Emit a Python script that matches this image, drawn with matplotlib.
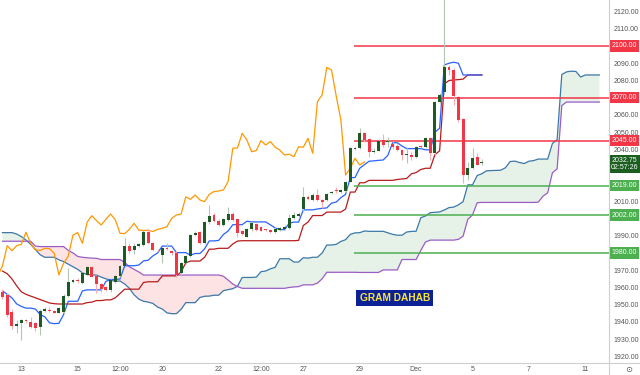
import matplotlib
matplotlib.use("Agg")
import numpy as np
import matplotlib.pyplot as plt

plt.rcParams['font.family'] = ['Liberation Sans', 'DejaVu Sans']

# 4H candles, 13 Nov -> 5 Dec
opens = [1957.6, 1955.5, 1945.5, 1937.5, 1939.5, 1941.2, 1940.2, 1939.2, 1936.9, 1946.6,
         1947.2, 1946.6, 1945.4, 1946.0, 1955.1, 1963.4, 1964.5, 1962.8, 1967.5, 1972.0,
         1966.5, 1962.0, 1960.0, 1958.6, 1963.4, 1966.7, 1972.6, 1984.2, 1981.7, 1984.2,
         1984.6, 1992.0, 1985.6, 1982.0, 1978.8, 1983.0, 1981.2, 1980.0, 1968.2, 1974.0,
         1978.3, 1990.4, 1992.4, 1985.6, 1997.8, 2002.0, 1998.8, 1996.2, 1999.2, 2002.6,
         1999.5, 1993.0, 1989.5, 1993.7, 1996.8, 1995.0, 1993.5, 1993.3, 1992.4, 1993.3,
         1994.1, 1994.3, 2000.1, 2001.4, 2005.5, 2012.7, 2010.7, 2013.6, 2010.7, 2010.7,
         2014.6, 2016.3, 2015.6, 2016.1, 2021.4, 2040.3, 2040.7, 2049.4, 2045.9, 2038.7,
         2039.3, 2045.5, 2044.2, 2043.2, 2042.2, 2039.7, 2036.8, 2036.8, 2035.8, 2042.0,
         2041.6, 2046.5, 2037.8, 2067.7, 2073.5, 2087.6, 2086.0, 2070.6, 2057.5, 2025.2,
         2029.1, 2035.5, 2032.2]
highs = [1959.0, 1956.5, 1947.5, 1941.0, 1942.0, 1941.8, 1942.7, 1940.0, 1947.5, 1948.5,
         1948.5, 1947.0, 1948.8, 1956.0, 1971.5, 1965.0, 1965.3, 1969.0, 1972.5, 1972.5,
         1967.0, 1962.5, 1961.0, 1965.0, 1967.5, 1973.3, 1988.5, 1985.5, 1986.0, 1986.0,
         1993.3, 1994.0, 1986.0, 1982.5, 1983.5, 1986.0, 1982.0, 1981.0, 1975.0, 1979.0,
         1991.0, 1993.0, 1993.0, 1998.5, 2007.8, 2003.0, 1999.5, 2000.0, 2006.9, 2003.5,
         2000.0, 1993.5, 1994.5, 1998.0, 1997.5, 1995.8, 1994.0, 1994.0, 1995.2, 1995.0,
         1996.0, 2002.5, 2004.0, 2004.0, 2018.3, 2013.5, 2014.5, 2016.9, 2011.0, 2014.6,
         2016.0, 2018.0, 2017.2, 2022.0, 2041.5, 2041.5, 2052.3, 2050.0, 2046.5, 2041.0,
         2046.0, 2049.0, 2047.5, 2045.0, 2043.0, 2040.5, 2041.3, 2038.7, 2042.0, 2042.5,
         2047.5, 2047.0, 2068.0, 2072.5, 2146.0, 2089.0, 2087.0, 2071.0, 2058.0, 2032.5,
         2041.0, 2038.0, 2034.5]
lows = [1953.5, 1943.0, 1936.0, 1933.5, 1929.6, 1939.5, 1936.3, 1935.0, 1932.5, 1946.0,
        1945.5, 1945.0, 1945.0, 1944.6, 1954.5, 1962.5, 1962.4, 1962.0, 1967.0, 1966.0,
        1956.6, 1957.5, 1957.8, 1957.5, 1962.5, 1966.0, 1972.0, 1980.0, 1979.4, 1983.5,
        1984.0, 1985.0, 1981.0, 1981.0, 1974.0, 1981.5, 1979.0, 1966.3, 1966.7, 1973.5,
        1977.5, 1990.0, 1985.0, 1985.0, 1997.0, 1998.0, 1995.5, 1995.8, 1998.5, 1998.5,
        1989.5, 1990.5, 1989.0, 1993.0, 1992.5, 1992.5, 1992.8, 1991.8, 1991.8, 1992.8,
        1993.5, 1994.0, 1999.5, 2000.8, 2004.5, 2010.5, 2010.0, 2010.0, 2005.9, 2010.0,
        2014.0, 2014.5, 2015.0, 2015.5, 2021.0, 2039.5, 2040.0, 2044.5, 2035.5, 2038.0,
        2039.0, 2041.5, 2041.5, 2040.5, 2039.0, 2033.9, 2032.0, 2033.9, 2035.3, 2040.8,
        2041.0, 2033.9, 2036.0, 2067.0, 2072.0, 2083.0, 2066.0, 2056.0, 2020.4, 2022.5,
        2028.5, 2031.0, 2031.0]
closes = [1954.7, 1944.0, 1937.5, 1939.0, 1941.0, 1940.4, 1937.3, 1936.3, 1946.6, 1947.3,
          1946.6, 1945.4, 1948.3, 1955.1, 1963.4, 1964.3, 1964.0, 1968.2, 1971.7, 1966.3,
          1962.0, 1959.0, 1958.6, 1964.3, 1966.7, 1972.6, 1984.2, 1981.3, 1984.2, 1985.0,
          1992.0, 1985.6, 1981.7, 1981.5, 1982.7, 1982.5, 1979.8, 1967.3, 1974.0, 1978.3,
          1990.4, 1991.8, 1985.6, 1997.8, 2001.6, 1998.8, 1996.2, 1999.5, 2002.6, 1999.2,
          1991.4, 1991.2, 1993.7, 1997.2, 1993.3, 1993.0, 1993.2, 1992.4, 1993.7, 1994.3,
          1995.3, 2000.1, 2002.0, 2002.6, 2012.5, 2011.1, 2013.6, 2010.7, 2009.8, 2014.0,
          2015.6, 2015.9, 2016.5, 2021.4, 2040.7, 2040.9, 2049.4, 2045.5, 2038.7, 2039.4,
          2045.1, 2042.6, 2044.6, 2041.3, 2039.7, 2036.8, 2037.3, 2035.8, 2041.6, 2041.3,
          2046.5, 2037.8, 2067.7, 2071.6, 2087.6, 2086.1, 2071.0, 2057.1, 2025.2, 2029.1,
          2034.9, 2031.0, 2032.75]

# Ichimoku lines
tenkan = [1958.0, 1956.0, 1954.0, 1950.5, 1949.0, 1948.0, 1948.0, 1947.5, 1944.3, 1943.0,
          1939.5, 1939.0, 1939.2, 1944.3, 1952.0, 1952.0, 1952.0, 1958.0, 1958.6, 1958.6,
          1958.6, 1958.6, 1963.5, 1964.6, 1964.6, 1964.9, 1972.6, 1972.6, 1972.6, 1973.0,
          1975.4, 1975.8, 1978.3, 1980.0, 1984.0, 1984.0, 1984.0, 1980.2, 1980.2, 1980.2,
          1978.7, 1979.7, 1979.7, 1982.4, 1987.0, 1987.0, 1987.3, 1990.7, 1992.7, 1996.4,
          1996.4, 1996.4, 1998.4, 1998.0, 1998.0, 1998.0, 1998.0, 1996.3, 1994.5, 1993.5,
          1993.5, 1997.2, 1997.9, 1997.9, 2005.0, 2005.0, 2005.0, 2005.5, 2005.9, 2006.1,
          2008.9, 2009.5, 2012.1, 2014.0, 2023.7, 2023.7, 2029.1, 2031.2, 2033.2, 2033.4,
          2033.7, 2033.9, 2036.7, 2043.9, 2043.9, 2042.0, 2040.5, 2040.5, 2040.5, 2040.5,
          2039.8, 2039.8, 2050.0, 2052.3, 2089.0, 2090.0, 2090.6, 2090.0, 2083.2, 2083.2,
          2083.2, 2083.2, 2083.2]
kijun = [1969.5, 1968.0, 1965.0, 1961.0, 1957.5, 1956.0, 1955.0, 1954.0, 1953.0, 1952.0,
         1951.0, 1950.6, 1950.4, 1950.4, 1950.4, 1950.4, 1950.4, 1950.4, 1951.2, 1951.5,
         1952.4, 1952.4, 1952.8, 1952.8, 1954.0, 1956.5, 1959.0, 1959.0, 1959.0, 1959.0,
         1962.9, 1963.3, 1963.3, 1963.3, 1966.7, 1966.7, 1966.7, 1966.7, 1969.0, 1974.3,
         1975.3, 1975.3, 1975.3, 1977.5, 1982.2, 1982.2, 1982.7, 1982.7, 1982.7, 1985.2,
         1986.9, 1987.1, 1987.1, 1987.1, 1987.1, 1987.1, 1987.1, 1987.1, 1987.1, 1987.1,
         1987.1, 1987.1, 1987.1, 1987.3, 1995.9, 1997.9, 2001.7, 2001.7, 2001.7, 2003.7,
         2003.7, 2003.7, 2003.7, 2005.5, 2015.3, 2015.3, 2020.7, 2020.7, 2022.1, 2022.1,
         2022.1, 2022.1, 2022.1, 2022.1, 2022.6, 2022.9, 2023.2, 2025.9, 2026.6, 2028.4,
         2029.1, 2029.1, 2037.0, 2039.2, 2078.0, 2080.0, 2080.3, 2080.5, 2080.8, 2083.2,
         2083.2, 2083.2, 2083.2]
span_a = [1991.8, 1991.8, 1991.8, 1991.0, 1989.5, 1987.5, 1985.0, 1982.0, 1979.0, 1977.5,
          1977.5, 1977.5, 1976.0, 1975.0, 1973.5, 1972.0, 1970.5, 1968.5, 1967.5, 1967.3,
          1967.2, 1966.0, 1965.0, 1964.3, 1963.5, 1963.75, 1962.0, 1959.5, 1955.75, 1953.25,
          1952.0, 1951.5, 1950.75, 1948.65, 1947.5, 1945.25, 1944.8, 1944.8, 1947.35, 1951.2,
          1951.2, 1951.2, 1954.2, 1954.9, 1955.0, 1955.5, 1955.5, 1958.15, 1958.7, 1959.3,
          1960.7, 1965.8, 1965.8, 1965.8, 1966.0, 1969.15, 1969.55, 1970.8, 1971.65, 1976.65,
          1976.65, 1976.65, 1974.75, 1974.75, 1977.25, 1977.0, 1977.5, 1977.5, 1979.95, 1984.6,
          1984.6, 1985.0, 1986.7, 1987.7, 1990.8, 1991.65, 1991.75, 1992.75, 1992.55, 1992.55,
          1992.55, 1992.55, 1991.7, 1990.8, 1990.3, 1990.3, 1992.15, 1992.5, 1992.6, 2000.45,
          2001.45, 2003.35, 2003.6, 2003.8, 2004.9, 2006.3, 2006.6, 2007.9, 2009.75, 2019.5,
          2019.5, 2024.9, 2025.95, 2027.65, 2027.75, 2027.9, 2028.0, 2029.4, 2033.0, 2033.25,
          2032.45, 2031.85, 2033.2, 2033.55, 2034.45, 2034.45, 2034.45, 2043.5, 2045.75, 2083.5,
          2085.0, 2085.4, 2085.25, 2082.0, 2083.2, 2083.2, 2083.2, 2083.2]
span_b = [1986.8, 1986.8, 1986.8, 1986.8, 1986.8, 1986.8, 1986.8, 1984.0, 1983.7, 1983.7,
          1983.7, 1983.7, 1983.7, 1983.7, 1981.5, 1980.0, 1978.0, 1977.5, 1977.2, 1977.0,
          1976.9, 1976.2, 1976.2, 1976.2, 1976.2, 1976.2, 1974.5, 1972.0, 1970.5, 1969.0,
          1967.2, 1967.2, 1967.2, 1967.2, 1967.2, 1967.2, 1967.2, 1967.2, 1967.2, 1967.2,
          1967.2, 1967.2, 1967.2, 1967.2, 1967.2, 1967.2, 1967.2, 1966.5, 1964.3, 1962.0,
          1960.5, 1959.5, 1959.5, 1959.5, 1959.5, 1959.5, 1959.5, 1959.5, 1959.5, 1959.5,
          1959.5, 1960.0, 1960.3, 1960.5, 1961.5, 1961.5, 1961.5, 1962.5, 1965.0, 1968.8,
          1968.8, 1968.8, 1968.8, 1968.8, 1968.8, 1968.8, 1968.7, 1968.7, 1968.7, 1968.7,
          1968.7, 1970.15, 1970.15, 1970.15, 1970.15, 1976.2, 1976.2, 1976.2, 1976.2, 1981.45,
          1986.4, 1987.45, 1987.45, 1987.45, 1987.45, 1987.45, 1987.45, 1987.9, 1989.75, 1999.5,
          2002.0, 2009.15, 2009.3, 2009.3, 2009.3, 2009.3, 2009.3, 2009.3, 2009.3, 2009.3,
          2009.3, 2009.3, 2009.3, 2009.3, 2009.5, 2012.9, 2014.9, 2026.5, 2028.75, 2065.5,
          2067.5, 2067.5, 2067.5, 2067.5, 2067.5, 2067.5, 2067.5, 2067.5]
lag = 25  # chikou shift

levels_red = [2100, 2070, 2045]
levels_green = [2019, 2002, 1980]
last_price = 2032.75
countdown = "02:57:26"

date_ticks = [4, 16, 25, 34, 46, 55, 64, 76, 88, 100, 112, 124]
date_labels = ["13", "15", "12:00", "20", "22", "12:00", "27", "29", "Dec", "5", "7", "11"]
price_ticks = [1920, 1930, 1940, 1950, 1960, 1970, 1990, 2010, 2040, 2050, 2060, 2080, 2090, 2110, 2120]

UP, DOWN = '#1e5b24', '#f23645'

o = np.array(opens); h = np.array(highs); l = np.array(lows); c = np.array(closes)
idx = np.arange(len(c))
a = np.array(span_a); b = np.array(span_b)
cidx = np.arange(len(a))

fig = plt.figure(figsize=(6.4, 3.75), dpi=100)
ax = fig.add_axes([0, 12 / 375, 609 / 640, 363 / 375])
ax.set_xlim(-0.53, 129.04)
ax.set_ylim(1916.2, 2126.67)

# cloud
ax.fill_between(cidx, a, b, where=a >= b, interpolate=True, color='#e6f2e7', lw=0, zorder=1)
ax.fill_between(cidx, a, b, where=a < b, interpolate=True, color='#fde3e3', lw=0, zorder=1)
ax.plot(cidx, a, color='#3d78a8', lw=0.9, zorder=2)
ax.plot(cidx, b, color='#9b5cc6', lw=0.9, zorder=2)

# chikou, kijun, tenkan
ax.plot(idx[24:] - lag, c[24:], color='#ff9800', lw=0.9, zorder=3)
ax.plot(idx, kijun, color='#b71c1c', lw=0.9, zorder=3)
ax.plot(idx, tenkan, color='#2962ff', lw=0.9, zorder=3)

# support / resistance
ax.hlines(levels_red, 74.8, 129.1, colors='#f23645', lw=1.1, zorder=3.5)
ax.hlines(levels_green, 74.8, 129.1, colors='#4caf50', lw=1.1, zorder=3.5)

# candles
up = c >= o
wick_cols = np.where(up, '#b3c6b4', '#f7adb3')
ax.vlines(idx, l, h, colors=wick_cols, lw=0.8, zorder=4)
body_low = np.minimum(o, c)
body_h = np.maximum(np.abs(c - o), 0.45)
ax.bar(idx, body_h, bottom=body_low, width=0.62, color=np.where(up, UP, DOWN), lw=0, zorder=5)

# axes cosmetics
for s in ax.spines.values():
    s.set_visible(False)
ax.yaxis.tick_right()
ax.set_yticks(price_ticks)
ax.set_yticklabels([f"{v:.2f}" for v in price_ticks])
ax.set_xticks(date_ticks)
ax.set_xticklabels(date_labels)
ax.tick_params(axis='y', length=0, pad=3, labelsize=5, labelcolor='#555555')
ax.tick_params(axis='x', length=0, pad=2, labelsize=5, labelcolor='#555555')

trans = ax.get_yaxis_transform()
for lv in levels_red:
    ax.text(1.0035, lv, f"{lv:.2f}", transform=trans, ha='left', va='center', fontsize=5,
            color='white', clip_on=False,
            bbox=dict(boxstyle='square,pad=0.3', fc='#f23645', ec='none'))
for lv in levels_green:
    ax.text(1.0035, lv, f"{lv:.2f}", transform=trans, ha='left', va='center', fontsize=5,
            color='white', clip_on=False,
            bbox=dict(boxstyle='square,pad=0.3', fc='#4caf50', ec='none'))
ax.text(1.0035, last_price - 1.2, f"{last_price:.2f}\n{countdown}", transform=trans, ha='left',
        va='center', fontsize=5, color='white', linespacing=1.05, clip_on=False,
        bbox=dict(boxstyle='square,pad=0.3', fc='#1b5e20', ec='none'))

ax.text(0.648, 0.179, "GRAM DAHAB", transform=ax.transAxes, ha='center', va='center',
        fontsize=7.3, fontweight='bold', color='#f7e43c',
        bbox=dict(boxstyle='square,pad=0.3', fc='#0d2196', ec='none'), zorder=6)

# pane separators
fig.add_artist(plt.Line2D([0, 1], [12 / 375, 12 / 375], color='#cfcfcf', lw=0.8))
fig.add_artist(plt.Line2D([609 / 640, 609 / 640], [0, 1], color='#cfcfcf', lw=0.8))
fig.text(629 / 640, 6 / 375, "\u2299", ha='center', va='center', fontsize=6, color='#555555',
         family='DejaVu Sans')

fig.savefig('out.png', dpi=100)
